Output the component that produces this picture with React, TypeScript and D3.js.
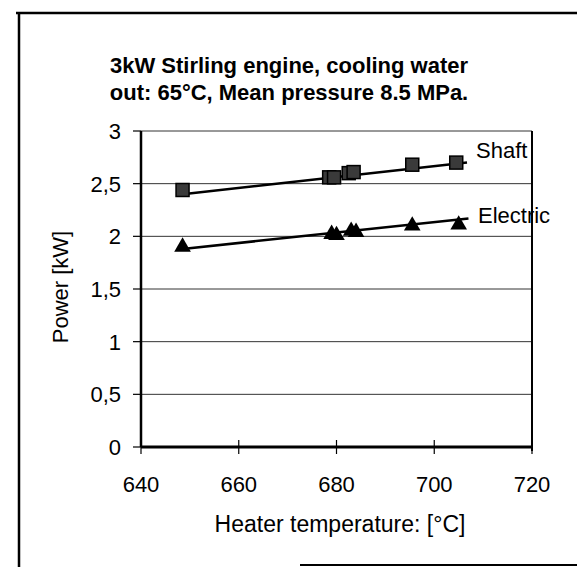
import React from "react";
import * as d3 from "d3";

// heater temperature [°C] and power [kW]
const shaftTemp = [648.5, 678.5, 679.5, 682.5, 683.5, 695.5, 704.5];
const shaftPower = [2.44, 2.56, 2.56, 2.6, 2.61, 2.68, 2.7];
const electricTemp = [648.5, 679, 680, 683, 684, 695.5, 705];
const electricPower = [1.9, 2.02, 2.01, 2.05, 2.04, 2.1, 2.11];

// linear trendlines as drawn (start / end)
const shaftTrend: [number, number][] = [
  [648.5, 2.4],
  [706.7, 2.7],
];
const electricTrend: [number, number][] = [
  [648.5, 1.88],
  [707, 2.17],
];

const xTicks = [640, 660, 680, 700, 720];
const yTicks = [0, 0.5, 1, 1.5, 2, 2.5, 3];

const W = 577;
const H = 567;
const font = "Arial, 'Liberation Sans', sans-serif";

const App = () => {
  const x = d3.scaleLinear().domain([640, 720]).range([141, 532]);
  const y = d3.scaleLinear().domain([0, 3]).range([447, 131]);
  const line = d3
    .line<[number, number]>()
    .x((d) => x(d[0]))
    .y((d) => y(d[1]));
  const fmt = (v: number) => String(v).replace(".", ",");
  const tri = d3.symbol().type(d3.symbolTriangle).size(120)();

  return (
    <svg
      width={W}
      height={H}
      style={{ position: "absolute", left: 0, top: 0, background: "#fff" }}
      fontFamily={font}
    >
      {/* outer frame (scanned figure border) */}
      <line x1={16} x2={W} y1={13} y2={13} stroke="#000" strokeWidth={2.5} />
      <line x1={19} x2={19} y1={12} y2={H} stroke="#000" strokeWidth={2.5} />
      <line x1={300} x2={W} y1={565} y2={565} stroke="#000" strokeWidth={2} />

      <text x={289} y={73} textAnchor="middle" fontSize={22} fontWeight="bold">
        3kW Stirling engine, cooling water
      </text>
      <text x={289} y={100} textAnchor="middle" fontSize={22} fontWeight="bold">
        out: 65°C, Mean pressure 8.5 MPa.
      </text>

      {/* gridlines */}
      {yTicks.slice(1).map((t) => (
        <line
          key={t}
          x1={x(640)}
          x2={x(720)}
          y1={y(t)}
          y2={y(t)}
          stroke="#333"
          strokeWidth={1}
        />
      ))}

      {/* y axis */}
      <line x1={x(640)} x2={x(640)} y1={y(3)} y2={y(0)} stroke="#000" strokeWidth={2.5} />
      {yTicks.map((t) => (
        <g key={t}>
          <line x1={x(640) - 8} x2={x(640)} y1={y(t)} y2={y(t)} stroke="#000" strokeWidth={1.2} />
          <text x={121} y={y(t)} dy="0.36em" textAnchor="end" fontSize={22}>
            {fmt(t)}
          </text>
        </g>
      ))}

      {/* right border */}
      <line x1={x(720)} x2={x(720)} y1={y(3)} y2={y(0) + 4} stroke="#000" strokeWidth={2} />

      {/* x axis */}
      <line x1={x(640)} x2={x(720)} y1={y(0)} y2={y(0)} stroke="#000" strokeWidth={3} />
      {xTicks.map((t) => (
        <g key={t}>
          <line x1={x(t)} x2={x(t)} y1={y(0) - 7} y2={y(0) + 7} stroke="#000" strokeWidth={1.2} />
          <text x={x(t)} y={492} textAnchor="middle" fontSize={22}>
            {t}
          </text>
        </g>
      ))}

      <text
        transform={`translate(68,287) rotate(-90)`}
        textAnchor="middle"
        fontSize={22}
      >
        Power [kW]
      </text>
      <text x={340} y={532} textAnchor="middle" fontSize={23}>
        Heater temperature: [°C]
      </text>

      {/* trendlines */}
      <path d={line(shaftTrend) ?? ""} fill="none" stroke="#000" strokeWidth={2.5} />
      <path d={line(electricTrend) ?? ""} fill="none" stroke="#000" strokeWidth={2.5} />

      {/* markers */}
      {shaftTemp.map((t, i) => (
        <rect
          key={"s" + i}
          x={x(t) - 6.5}
          y={y(shaftPower[i]) - 6.5}
          width={13}
          height={13}
          fill="#3a3a3a"
          stroke="#000"
          strokeWidth={1.5}
        />
      ))}
      {electricTemp.map((t, i) => (
        <path
          key={"e" + i}
          d={tri ?? ""}
          transform={`translate(${x(t)},${y(electricPower[i])})`}
          fill="#000"
        />
      ))}

      <text x={476} y={158} fontSize={22}>
        Shaft
      </text>
      <text x={478} y={223} fontSize={22}>
        Electric
      </text>
      {/* the border is drawn over the label text in the original */}
      <line x1={x(720)} x2={x(720)} y1={y(3)} y2={y(2)} stroke="#000" strokeWidth={2} />
    </svg>
  );
};

export default App;
